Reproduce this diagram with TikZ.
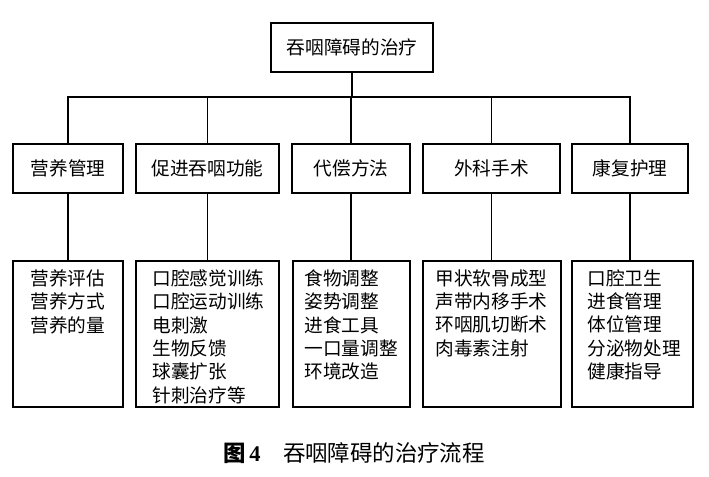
\documentclass[tikz,border=0pt]{standalone}
\usepackage{fontspec}
\usepackage{tikz}
\setmainfont{Liberation Serif}
\newfontfamily\cjk{Noto Sans CJK SC}

\begin{document}
\begin{tikzpicture}[x=0.75pt,y=0.75pt,yscale=-1,xscale=1,
  every node/.style={font=\cjk\fontsize{14}{17.5}\selectfont},
  topbox/.style={draw, line width=1pt, inner sep=0pt, minimum width=121.5pt, minimum height=36.75pt},
  midbox/.style={draw, line width=1pt, inner sep=0pt, minimum height=36.75pt, minimum width=#1*0.75pt},
  lowbox/.style={draw, line width=1pt, inner sep=0pt, minimum height=109.5pt, minimum width=#1*0.75pt},
  lowtext/.style={anchor=north west, inner sep=0pt, align=left},
  link/.style={line width=0.9pt}]
\path[use as bounding box] (0,0) rectangle (709,476);

%Shape: Rectangle
\node[topbox] (tyza) at (352,47.5) {吞咽障碍的治疗};
\coordinate (bus) at (352,97);

%Shape: Rectangle
\node[midbox=110] (yygl) at (68,168.5) {营养管理};
\node[midbox=143] (cjty) at (207.5,168.5) {促进吞咽功能};
\node[midbox=118] (dcff) at (351,168.5) {代偿方法};
\node[midbox=137] (wkss) at (491.5,168.5) {外科手术};
\node[midbox=116] (kfhl) at (630,168.5) {康复护理};

%Shape: Rectangle
\node[lowbox=110] (yygl2) at (68,334) {};
\node[lowbox=143] (cjty2) at (207.5,334) {};
\node[lowbox=117] (dcff2) at (351.5,334) {};
\node[lowbox=138] (wkss2) at (492,334) {};
\node[lowbox=121] (kfhl2) at (632.5,334) {};

% Text Node
\node[lowtext] (yygl3) at ([xshift=13.5pt,yshift=6.75pt]yygl2.north west) {营养评估\\营养方式\\营养的量};
% Text Node
\node[lowtext] (cjty3) at ([xshift=12.75pt,yshift=6.75pt]cjty2.north west) {口腔感觉训练\\口腔运动训练\\电刺激\\生物反馈\\球囊扩张\\针刺治疗等};
% Text Node
\node[lowtext] (dcff3) at ([xshift=9pt,yshift=6.75pt]dcff2.north west) {食物调整\\姿势调整\\进食工具\\一口量调整\\环境改造};
% Text Node
\node[lowtext] (wkss3) at ([xshift=9.75pt,yshift=6.75pt]wkss2.north west) {甲状软骨成型\\声带内移手术\\环咽肌切断术\\肉毒素注射};
% Text Node
\node[lowtext] (kfhl3) at ([xshift=12pt,yshift=6.75pt]kfhl2.north west) {口腔卫生\\进食管理\\体位管理\\分泌物处理\\健康指导};

%Straight Lines
\draw[link] (tyza.south) -- (bus);
\draw[link] (yygl.north) -- (yygl.north |- bus) -- (kfhl.north |- bus) -- (kfhl.north);
\foreach \a in {cjty,dcff,wkss}
  \draw[link] (\a.north) -- (\a.north |- bus);
\foreach \a in {yygl,cjty,dcff,wkss,kfhl}
  \draw[link] (\a.south) -- (\a.south |- \a2.north);

% Text Node
\node[font=\cjk\fontsize{16.8}{20}\selectfont] (caption) at (354,453) {{\bfseries 图\,\rmfamily 4}\quad 吞咽障碍的治疗流程};

\end{tikzpicture}
\end{document}
